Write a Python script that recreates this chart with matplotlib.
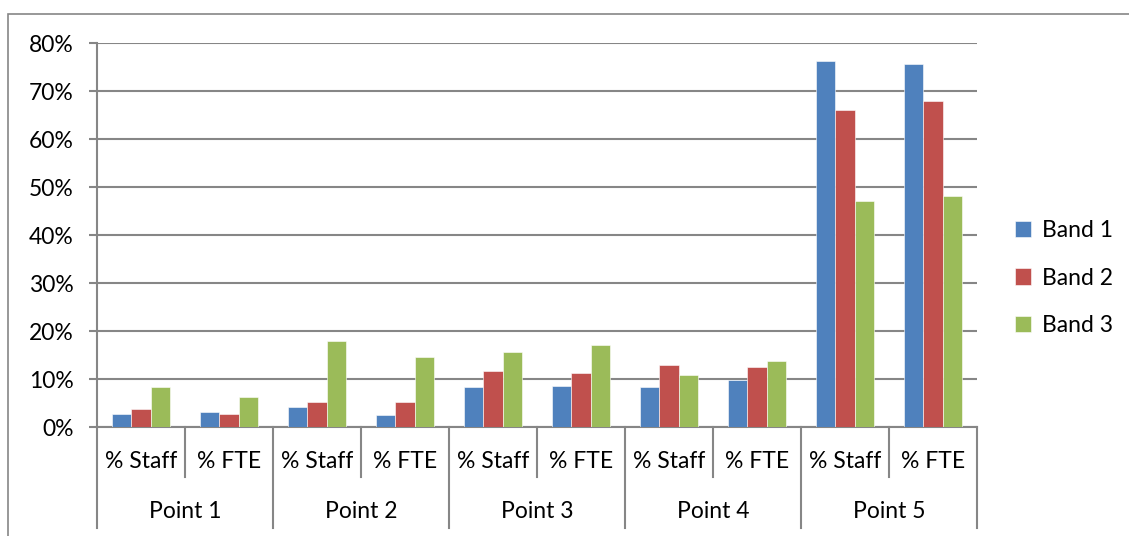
import matplotlib.pyplot as plt
from matplotlib.patches import Rectangle
from matplotlib.lines import Line2D
import matplotlib.transforms as mtransforms
import numpy as np

plt.rcParams['font.family'] = ['Lato', 'DejaVu Sans']

# Datos (porcentajes)
points = ['Point 1', 'Point 2', 'Point 3', 'Point 4', 'Point 5']
measures = ['% Staff', '% FTE']
band1 = [2.7, 3.2, 4.1, 2.5, 8.3, 8.5, 8.3, 9.7, 76.2, 75.7]
band2 = [3.8, 2.7, 5.2, 5.2, 11.6, 11.3, 12.9, 12.4, 66.1, 68.0]
band3 = [8.3, 6.2, 18.0, 14.6, 15.6, 17.0, 10.8, 13.7, 47.0, 48.1]
series_names = ['Band 1', 'Band 2', 'Band 3']
colors = ['#4F81BD', '#C0504D', '#9BBB59']
yticks = [0, 10, 20, 30, 40, 50, 60, 70, 80]

grey = '#868686'
W, H = 1129, 536
fs = 16.5

fig = plt.figure(figsize=(W / 100, H / 100), dpi=100)
ax = fig.add_axes([97 / W, 1 - 427 / H, 880 / W, 384 / H])

# Marco exterior del gráfico
fig.patches.append(Rectangle((8 / W, -0.1), 1.2, 1 - 14 / H + 0.1,
                             transform=fig.transFigure, fill=False,
                             edgecolor=grey, linewidth=1.2))

x = np.arange(len(band1))
w = 1 / 4.5
for k, (vals, col) in enumerate(zip([band1, band2, band3], colors)):
    ax.bar(x + (k - 1) * w, vals, width=w, color=col, label=series_names[k],
           edgecolor='white', linewidth=0.4, zorder=3)

ax.set_xlim(-0.5, len(band1) - 0.5)
ax.set_ylim(0, 80)
ax.set_yticks(yticks)
ax.set_yticklabels([f'{t}%' for t in yticks], fontsize=fs)
ax.yaxis.grid(True, color=grey, linewidth=1.5, zorder=0)
ax.set_axisbelow(True)
ax.tick_params(axis='y', length=6, width=1.5, color=grey, pad=11)
ax.set_xticks([])

for s in ['top', 'right']:
    ax.spines[s].set_visible(False)
for s in ['left', 'bottom']:
    ax.spines[s].set_color(grey)
    ax.spines[s].set_linewidth(1.5)

# Eje de categorías multinivel
trans = mtransforms.blended_transform_factory(ax.transData, ax.transAxes)
px = 1 / 384  # un píxel en coordenadas del eje
for i in range(len(band1)):
    ax.text(i, -34 * px, measures[i % 2], transform=trans, ha='center',
            va='center', fontsize=fs)
for j, p in enumerate(points):
    ax.text(2 * j + 0.5, -85 * px, p, transform=trans, ha='center',
            va='center', fontsize=fs)
for b in range(len(band1) + 1):
    bx = b - 0.5
    y_end = -101 * px if b % 2 == 0 else -50 * px
    ax.add_line(Line2D([bx, bx], [0, y_end], transform=trans, color=grey,
                       linewidth=1.5, clip_on=False))

# Leyenda
ax.legend(loc='center left', bbox_to_anchor=(1.02, 0.388), frameon=False,
          fontsize=fs, handlelength=0.7, handleheight=0.7,
          handletextpad=0.45, labelspacing=1.15)

plt.savefig('out.png', dpi=100)
